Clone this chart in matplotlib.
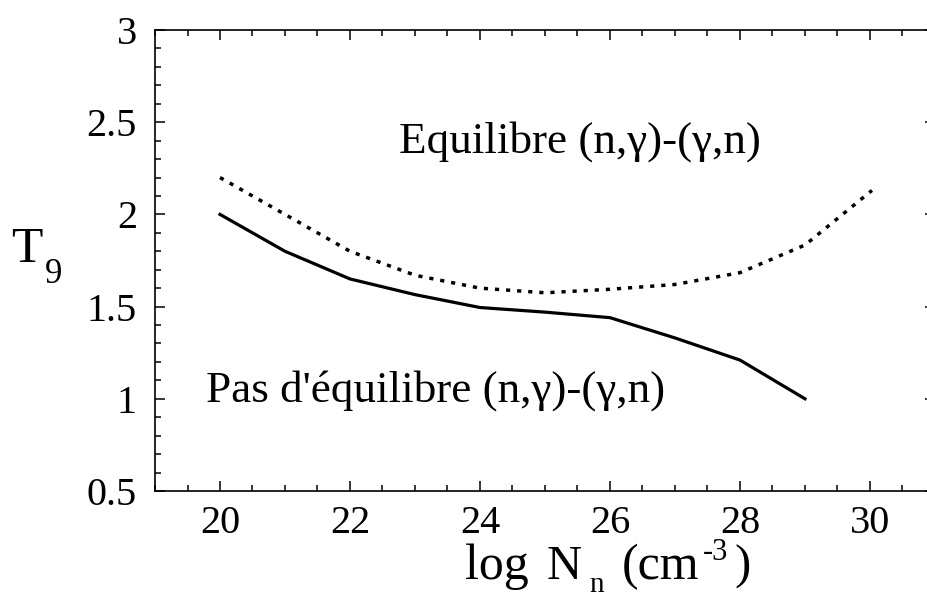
import matplotlib
matplotlib.use("Agg")
import matplotlib.pyplot as plt
from matplotlib.ticker import MultipleLocator, FixedLocator, FixedFormatter

plt.rcParams['font.family'] = ['Liberation Serif', 'DejaVu Serif']

# Data
logN_solid = [20, 21, 22, 23, 24, 25, 26, 27, 28, 29]
T9_solid = [2.00, 1.80, 1.65, 1.565, 1.495, 1.47, 1.44, 1.33, 1.21, 1.00]
logN_dotted = [20, 21, 22, 23, 24, 25, 26, 27, 28, 29, 30.03]
T9_dotted = [2.20, 2.00, 1.80, 1.67, 1.60, 1.575, 1.594, 1.62, 1.684, 1.834, 2.13]

xticks = [20, 22, 24, 26, 28, 30]
yticks = [0.5, 1, 1.5, 2, 2.5, 3]
yticklabels = ["0.5", "1", "1.5", "2", "2.5", "3"]

W, H = 928, 598
fig = plt.figure(figsize=(W/100, H/100), dpi=100)
ax = fig.add_axes([155/W, 1-491/H, 780/W, 461/H])

ax.plot(logN_solid, T9_solid, color='black', lw=2.3, solid_joinstyle='round')
ax.plot(logN_dotted, T9_dotted, color='black', lw=2.5, linestyle=(0, (1.2, 2.0)))

ax.set_xlim(19, 31)
ax.set_ylim(0.5, 3)
ax.xaxis.set_major_locator(FixedLocator(xticks))
ax.xaxis.set_minor_locator(MultipleLocator(0.5))
ax.yaxis.set_major_locator(FixedLocator(yticks))
ax.yaxis.set_major_formatter(FixedFormatter(yticklabels))
ax.yaxis.set_minor_locator(MultipleLocator(0.1))

ax.tick_params(which='both', direction='in', top=True, right=True, width=1.1, colors='black')
ax.tick_params(which='major', length=7)
ax.tick_params(which='minor', length=4)
ax.tick_params(axis='x', which='major', labelsize=29, pad=10)
ax.tick_params(axis='y', which='major', labelsize=29, pad=13)
for s in ax.spines.values():
    s.set_linewidth(1.2)

ax.text(22.75, 2.333, "Equilibre (n,\u03b3)-(\u03b3,n)", fontsize=32.5, va='baseline', ha='left')
ax.text(19.78, 0.983, "Pas d'\u00e9quilibre (n,\u03b3)-(\u03b3,n)", fontsize=32.5, va='baseline', ha='left')


def ftext(px, py, s, size, ha='left'):
    fig.text(px/W, 1-py/H, s, fontsize=size, ha=ha, va='baseline')


# x-axis label: log N_n (cm^-3)
ftext(465, 579, "log", 36)
ftext(547, 579, "N", 35)
ftext(589, 592, "n", 21)
ftext(622, 579, "(cm", 36)
ftext(703, 560, "-3", 22)
ftext(734, 579, ")", 35)

# y-axis label: T_9
ftext(11, 262, "T", 37)
ftext(45, 283, "9", 25)

fig.savefig("out.png", dpi=100)
